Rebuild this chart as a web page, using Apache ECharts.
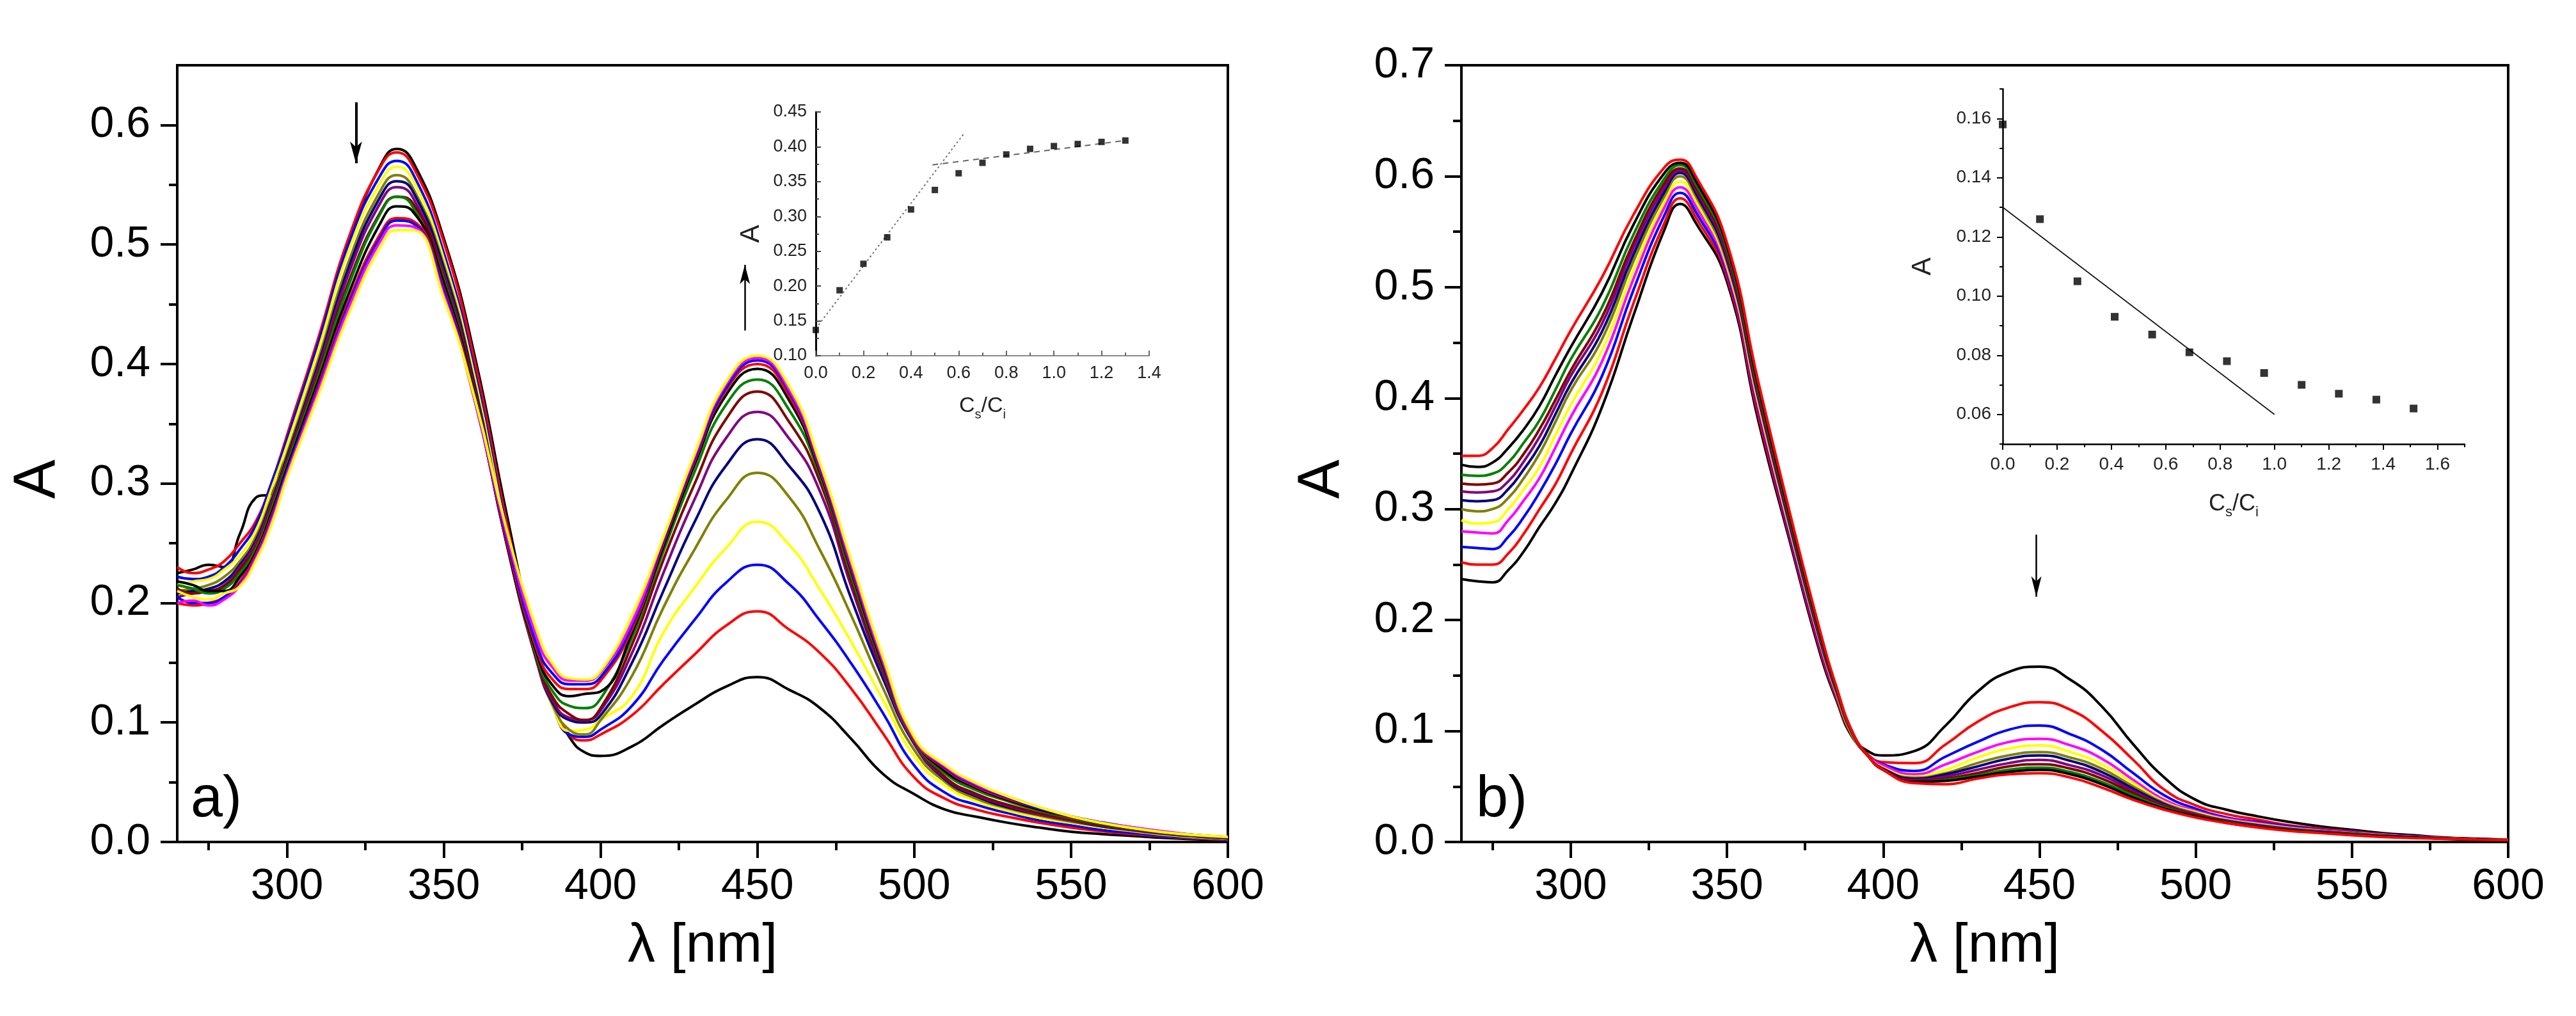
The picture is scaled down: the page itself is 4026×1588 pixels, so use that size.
<!DOCTYPE html>
<html>
<head>
<meta charset="utf-8">
<script src="https://cdn.jsdelivr.net/npm/echarts@6/dist/echarts.min.js"></script>
<style>
  html, body { margin: 0; padding: 0; background: #fff; }
  #chart { width: 4026px; height: 1588px; }
</style>
</head>
<body>
<div id="chart"></div>
<script>
// wavelength grid (nm), shared by every spectrum
const wavelength = [265, 270, 275, 280, 285, 290, 295, 300, 310, 320, 330, 335, 340, 350, 360, 370, 380, 385, 390, 395, 400,
  410, 420, 430, 440, 450, 460, 470, 480, 490, 500, 510, 520, 530, 540, 550, 560, 570, 580, 590, 600];

// panel a) spectra
const specA1 = [0.225, 0.228, 0.232, 0.23, 0.258, 0.288, 0.292, 0.34, 0.42, 0.505, 0.567, 0.580, 0.570, 0.505, 0.405, 0.275, 0.155, 0.115, 0.088, 0.075, 0.072,
  0.080, 0.098, 0.115, 0.130, 0.138, 0.1275, 0.112, 0.086, 0.057, 0.040, 0.027, 0.021, 0.016, 0.012, 0.0086, 0.0066, 0.005, 0.0034, 0.0023, 0.0014];
const specA2 = [0.23, 0.225, 0.228, 0.235, 0.25, 0.268, 0.30, 0.34, 0.422, 0.508, 0.566, 0.577, 0.566, 0.502, 0.40, 0.268, 0.15, 0.115, 0.09, 0.085, 0.09,
  0.106, 0.132, 0.157, 0.181, 0.193, 0.178, 0.158, 0.128, 0.091, 0.054, 0.036, 0.027, 0.021, 0.016, 0.012, 0.009, 0.0065, 0.0045, 0.003, 0.0018];
const specA3 = [0.222, 0.22, 0.222, 0.23, 0.245, 0.265, 0.30, 0.337, 0.418, 0.503, 0.559, 0.570, 0.56, 0.493, 0.392, 0.262, 0.148, 0.112, 0.09, 0.088, 0.094,
  0.114, 0.152, 0.186, 0.217, 0.232, 0.216, 0.185, 0.149, 0.108, 0.064, 0.041, 0.031, 0.024, 0.018, 0.014, 0.010, 0.0075, 0.005, 0.0035, 0.002];
const specA4 = [0.215, 0.218, 0.22, 0.228, 0.24, 0.26, 0.295, 0.332, 0.412, 0.497, 0.553, 0.565, 0.555, 0.488, 0.387, 0.258, 0.148, 0.112, 0.093, 0.094, 0.102,
  0.122, 0.175, 0.213, 0.246, 0.268, 0.249, 0.211, 0.167, 0.119, 0.072, 0.047, 0.034, 0.026, 0.020, 0.016, 0.012, 0.009, 0.006, 0.004, 0.0025];
const specA5 = [0.21, 0.212, 0.215, 0.222, 0.235, 0.255, 0.288, 0.325, 0.404, 0.488, 0.546, 0.558, 0.548, 0.483, 0.382, 0.255, 0.148, 0.113, 0.094, 0.09, 0.102,
  0.139, 0.196, 0.245, 0.286, 0.309, 0.289, 0.244, 0.189, 0.129, 0.077, 0.050, 0.036, 0.028, 0.022, 0.017, 0.013, 0.0095, 0.0065, 0.0045, 0.0028];
const specA6 = [0.208, 0.21, 0.212, 0.218, 0.232, 0.252, 0.285, 0.322, 0.40, 0.483, 0.541, 0.553, 0.545, 0.48, 0.38, 0.252, 0.148, 0.115, 0.102, 0.1, 0.106,
  0.150, 0.210, 0.268, 0.315, 0.337, 0.315, 0.275, 0.203, 0.137, 0.082, 0.052, 0.038, 0.029, 0.023, 0.018, 0.013, 0.0098, 0.0068, 0.0046, 0.003];
const specA7 = [0.205, 0.208, 0.21, 0.215, 0.23, 0.25, 0.283, 0.32, 0.397, 0.478, 0.536, 0.548, 0.54, 0.476, 0.377, 0.25, 0.148, 0.117, 0.104, 0.102, 0.11,
  0.158, 0.225, 0.287, 0.338, 0.360, 0.338, 0.293, 0.213, 0.141, 0.083, 0.053, 0.039, 0.030, 0.023, 0.018, 0.0135, 0.010, 0.007, 0.0048, 0.003];
const specA8 = [0.212, 0.208, 0.21, 0.214, 0.228, 0.247, 0.28, 0.318, 0.393, 0.471, 0.528, 0.54, 0.535, 0.473, 0.375, 0.25, 0.15, 0.12, 0.107, 0.102, 0.112,
  0.165, 0.236, 0.300, 0.354, 0.377, 0.352, 0.301, 0.218, 0.144, 0.085, 0.054, 0.040, 0.031, 0.024, 0.019, 0.014, 0.0105, 0.0072, 0.005, 0.0032];
const specA9 = [0.215, 0.212, 0.208, 0.212, 0.225, 0.245, 0.278, 0.316, 0.39, 0.468, 0.527, 0.54, 0.532, 0.471, 0.373, 0.25, 0.152, 0.125, 0.114, 0.112, 0.12,
  0.171, 0.243, 0.310, 0.366, 0.387, 0.362, 0.306, 0.222, 0.146, 0.085, 0.057, 0.043, 0.034, 0.026, 0.020, 0.015, 0.011, 0.0076, 0.005, 0.0034];
const specA10 = [0.218, 0.215, 0.21, 0.21, 0.222, 0.242, 0.275, 0.313, 0.386, 0.461, 0.519, 0.532, 0.528, 0.468, 0.372, 0.25, 0.155, 0.13, 0.122, 0.124, 0.126,
  0.175, 0.247, 0.316, 0.374, 0.396, 0.370, 0.309, 0.226, 0.148, 0.086, 0.059, 0.045, 0.035, 0.027, 0.021, 0.0155, 0.0115, 0.008, 0.0054, 0.0036];
const specA11 = [0.20, 0.198, 0.20, 0.205, 0.218, 0.24, 0.272, 0.31, 0.382, 0.455, 0.51, 0.522, 0.52, 0.463, 0.37, 0.252, 0.158, 0.135, 0.128, 0.128, 0.135,
  0.178, 0.250, 0.319, 0.378, 0.400, 0.374, 0.311, 0.228, 0.150, 0.086, 0.061, 0.046, 0.036, 0.028, 0.021, 0.016, 0.0118, 0.0083, 0.0056, 0.0038];
const specA12 = [0.205, 0.20, 0.20, 0.205, 0.216, 0.238, 0.27, 0.31, 0.38, 0.452, 0.507, 0.52, 0.518, 0.461, 0.368, 0.255, 0.162, 0.14, 0.132, 0.132, 0.138,
  0.181, 0.252, 0.321, 0.380, 0.403, 0.377, 0.313, 0.230, 0.151, 0.087, 0.062, 0.047, 0.037, 0.028, 0.0215, 0.0163, 0.012, 0.0085, 0.0057, 0.004];
const specA13 = [0.20, 0.202, 0.198, 0.203, 0.215, 0.237, 0.268, 0.308, 0.378, 0.449, 0.504, 0.516, 0.515, 0.458, 0.368, 0.258, 0.168, 0.145, 0.135, 0.135, 0.142,
  0.184, 0.254, 0.323, 0.383, 0.405, 0.379, 0.315, 0.232, 0.152, 0.087, 0.063, 0.048, 0.038, 0.029, 0.0215, 0.016, 0.0122, 0.0087, 0.0058, 0.0042];
const specA14 = [0.21, 0.205, 0.203, 0.208, 0.214, 0.235, 0.265, 0.305, 0.374, 0.444, 0.499, 0.512, 0.512, 0.455, 0.37, 0.262, 0.175, 0.148, 0.137, 0.136, 0.143,
  0.19, 0.255, 0.325, 0.385, 0.407, 0.382, 0.317, 0.235, 0.155, 0.088, 0.064, 0.049, 0.038, 0.029, 0.0215, 0.0158, 0.0115, 0.008, 0.0057, 0.0043];

// panel b) spectra
const specB1 = [0.237, 0.235, 0.234, 0.245, 0.262, 0.284, 0.305, 0.331, 0.392, 0.474, 0.552, 0.575, 0.558, 0.505, 0.380, 0.272, 0.168, 0.128, 0.095, 0.082, 0.078,
  0.082, 0.105, 0.135, 0.153, 0.158, 0.146, 0.122, 0.088, 0.058, 0.038, 0.029, 0.023, 0.018, 0.014, 0.011, 0.008, 0.006, 0.004, 0.003, 0.002];
const specB2 = [0.252, 0.25, 0.25, 0.26, 0.278, 0.30, 0.322, 0.35, 0.405, 0.485, 0.558, 0.580, 0.563, 0.509, 0.385, 0.275, 0.171, 0.13, 0.096, 0.079, 0.072,
  0.071, 0.088, 0.108, 0.121, 0.126, 0.119, 0.100, 0.074, 0.047, 0.033, 0.025, 0.020, 0.015, 0.012, 0.0095, 0.007, 0.0052, 0.0037, 0.0027, 0.0019];
const specB3 = [0.266, 0.265, 0.264, 0.275, 0.293, 0.315, 0.34, 0.368, 0.42, 0.497, 0.565, 0.585, 0.568, 0.513, 0.39, 0.278, 0.174, 0.132, 0.097, 0.078, 0.07,
  0.064, 0.077, 0.09, 0.101, 0.105, 0.097, 0.083, 0.062, 0.042, 0.030, 0.022, 0.018, 0.014, 0.011, 0.0088, 0.0066, 0.005, 0.0035, 0.0026, 0.0019];
const specB4 = [0.28, 0.279, 0.278, 0.29, 0.308, 0.328, 0.355, 0.383, 0.433, 0.507, 0.572, 0.590, 0.573, 0.516, 0.393, 0.281, 0.176, 0.133, 0.097, 0.078, 0.069,
  0.061, 0.07, 0.081, 0.09, 0.093, 0.087, 0.075, 0.056, 0.038, 0.028, 0.021, 0.017, 0.013, 0.0105, 0.0084, 0.0063, 0.0048, 0.0034, 0.0025, 0.0019];
const specB5 = [0.29, 0.287, 0.288, 0.30, 0.318, 0.338, 0.366, 0.394, 0.443, 0.515, 0.577, 0.595, 0.578, 0.519, 0.396, 0.283, 0.178, 0.134, 0.097, 0.078, 0.067,
  0.059, 0.065, 0.076, 0.084, 0.087, 0.081, 0.070, 0.053, 0.036, 0.027, 0.020, 0.016, 0.0125, 0.010, 0.008, 0.006, 0.0046, 0.0033, 0.0025, 0.0019];
const specB6 = [0.30, 0.298, 0.30, 0.31, 0.328, 0.35, 0.378, 0.407, 0.453, 0.523, 0.582, 0.600, 0.582, 0.522, 0.399, 0.285, 0.179, 0.135, 0.098, 0.078, 0.066,
  0.058, 0.062, 0.071, 0.078, 0.081, 0.076, 0.066, 0.050, 0.035, 0.026, 0.0195, 0.0155, 0.012, 0.0097, 0.0078, 0.0058, 0.0045, 0.0032, 0.0024, 0.0018];
const specB7 = [0.308, 0.307, 0.308, 0.318, 0.336, 0.357, 0.385, 0.413, 0.46, 0.529, 0.586, 0.603, 0.585, 0.525, 0.401, 0.287, 0.180, 0.136, 0.098, 0.078, 0.066,
  0.057, 0.061, 0.068, 0.075, 0.078, 0.073, 0.063, 0.048, 0.034, 0.025, 0.019, 0.015, 0.0118, 0.0095, 0.0076, 0.0057, 0.0044, 0.0031, 0.0024, 0.0018];
const specB8 = [0.316, 0.315, 0.316, 0.325, 0.343, 0.365, 0.392, 0.42, 0.467, 0.535, 0.59, 0.605, 0.588, 0.528, 0.403, 0.289, 0.181, 0.137, 0.099, 0.078, 0.065,
  0.056, 0.059, 0.065, 0.071, 0.074, 0.069, 0.060, 0.046, 0.033, 0.025, 0.0185, 0.0145, 0.0115, 0.0093, 0.0074, 0.0055, 0.0043, 0.0031, 0.0023, 0.0018];
const specB9 = [0.323, 0.322, 0.323, 0.333, 0.35, 0.372, 0.398, 0.425, 0.473, 0.54, 0.594, 0.607, 0.59, 0.531, 0.405, 0.291, 0.182, 0.138, 0.099, 0.078, 0.065,
  0.055, 0.057, 0.062, 0.068, 0.070, 0.066, 0.057, 0.044, 0.032, 0.024, 0.018, 0.014, 0.0112, 0.009, 0.0072, 0.0054, 0.0042, 0.003, 0.0023, 0.0018];
const specB10 = [0.331, 0.33, 0.332, 0.342, 0.36, 0.38, 0.407, 0.435, 0.482, 0.547, 0.598, 0.610, 0.593, 0.534, 0.408, 0.293, 0.184, 0.138, 0.099, 0.078, 0.065,
  0.054, 0.056, 0.06, 0.065, 0.067, 0.063, 0.054, 0.042, 0.031, 0.023, 0.0175, 0.0137, 0.011, 0.0088, 0.007, 0.0052, 0.0041, 0.003, 0.0023, 0.0018];
const specB11 = [0.34, 0.338, 0.342, 0.355, 0.372, 0.393, 0.42, 0.446, 0.495, 0.556, 0.603, 0.612, 0.596, 0.537, 0.411, 0.295, 0.186, 0.139, 0.1, 0.078, 0.065,
  0.054, 0.055, 0.059, 0.063, 0.065, 0.061, 0.052, 0.040, 0.030, 0.023, 0.0172, 0.0134, 0.0105, 0.0085, 0.0065, 0.005, 0.004, 0.0029, 0.0022, 0.0018];
const specB12 = [0.348, 0.348, 0.355, 0.372, 0.39, 0.41, 0.435, 0.461, 0.509, 0.565, 0.608, 0.615, 0.600, 0.540, 0.415, 0.298, 0.188, 0.14, 0.1, 0.078, 0.065,
  0.053, 0.052, 0.057, 0.061, 0.062, 0.058, 0.049, 0.038, 0.029, 0.022, 0.017, 0.013, 0.010, 0.008, 0.006, 0.0045, 0.0035, 0.0028, 0.0022, 0.0018];

// inset a): A(450 nm) vs cS/cI
const insetARatio = [0, 0.1, 0.2, 0.3, 0.4, 0.5, 0.6, 0.7, 0.8, 0.9, 1.0, 1.1, 1.2, 1.3];
const insetAAbs = [0.137, 0.194, 0.232, 0.270, 0.310, 0.338, 0.362, 0.377, 0.389, 0.397, 0.401, 0.404, 0.407, 0.409];
const insetAFitRise = [[0, 0.139], [0.62, 0.418]];
const insetAFitFlat = [[0.49, 0.374], [1.3, 0.409]];

// inset b): A(450 nm) vs cS/cI
const insetBRatio = [0, 0.137, 0.275, 0.412, 0.55, 0.687, 0.825, 0.962, 1.1, 1.237, 1.375, 1.512];
const insetBAbs = [0.158, 0.126, 0.105, 0.093, 0.087, 0.081, 0.078, 0.074, 0.070, 0.067, 0.065, 0.062];
const insetBFit = [[0, 0.130], [1.0, 0.060]];

// arrows (tail -> head, data coords)
const arrowA320 = [[322, 0.619], [322, 0.568]];
const arrowA450 = [[446, 0.428], [446, 0.483]];
const arrowB450 = [[449, 0.277], [449, 0.221]];

// tick values
const nmMajor = [300, 350, 400, 450, 500, 550, 600];
const nmMinor = [275, 325, 375, 425, 475, 525, 575];
const absMajorA = [0, 0.1, 0.2, 0.3, 0.4, 0.5, 0.6];
const absMinorA = [0.05, 0.15, 0.25, 0.35, 0.45, 0.55];
const absMajorB = [0, 0.1, 0.2, 0.3, 0.4, 0.5, 0.6, 0.7];
const absMinorB = [0.05, 0.15, 0.25, 0.35, 0.45, 0.55, 0.65];
const insetBMajor = [0.06, 0.08, 0.10, 0.12, 0.14, 0.16];
const insetBMinor = [0.05, 0.07, 0.09, 0.11, 0.13, 0.15, 0.17];
const insetBRatioMajor = [0, 0.2, 0.4, 0.6, 0.8, 1.0, 1.2, 1.4, 1.6];
const insetBRatioMinor = [0.1, 0.3, 0.5, 0.7, 0.9, 1.1, 1.3, 1.5, 1.7];

const seriesA = [specA1, specA2, specA3, specA4, specA5, specA6, specA7, specA8, specA9, specA10, specA11, specA12, specA13, specA14];
const seriesB = [specB1, specB2, specB3, specB4, specB5, specB6, specB7, specB8, specB9, specB10, specB11, specB12];
const paletteA = ['#000000', '#ff0000', '#0000ff', '#ffff00', '#808000', '#000080', '#800080', '#800000', '#008000', '#000000', '#ff0000', '#0000ff', '#ff00ff', '#ffff00'];
const paletteB = ['#000000', '#ff0000', '#0000ff', '#ff00ff', '#ffff00', '#808000', '#000080', '#800080', '#800000', '#008000', '#000000', '#ff0000'];

const FONT = "'Liberation Sans', Arial, sans-serif";

function mainX(gridIndex, name) {
  return {
    type: 'value', gridIndex, min: 265, max: 600, position: 'bottom',
    name, nameLocation: 'middle', nameGap: 120,
    nameTextStyle: { fontFamily: FONT, fontSize: 86, color: '#000' },
    axisLine: { show: true, onZero: false, lineStyle: { color: '#000', width: 4 } },
    axisTick: { show: true, inside: false, length: 25, customValues: nmMajor, lineStyle: { color: '#000', width: 4 } },
    axisLabel: { show: true, margin: 36, customValues: nmMajor, fontFamily: FONT, fontSize: 68, color: '#000' },
    splitLine: { show: false }
  };
}
function mainY(gridIndex, max, major) {
  return {
    type: 'value', gridIndex, min: 0, max, position: 'left',
    name: 'A', nameLocation: 'middle', nameGap: 170, nameRotate: 90,
    nameTextStyle: { fontFamily: FONT, fontSize: 92, color: '#000', padding: [0, 80, 0, 0] },
    axisLine: { show: true, onZero: false, lineStyle: { color: '#000', width: 4 } },
    axisTick: { show: true, inside: false, length: 26, customValues: major, lineStyle: { color: '#000', width: 4 } },
    axisLabel: { show: true, margin: 42, customValues: major, fontFamily: FONT, fontSize: 68, color: '#000',
      formatter: v => v.toFixed(1) },
    splitLine: { show: false }
  };
}
// extra axis that only carries short minor ticks
function minorAxis(gridIndex, min, max, position, values, len, width, inside) {
  return {
    type: 'value', gridIndex, min, max, position,
    axisLine: { show: false, onZero: false },
    axisTick: { show: true, inside: !!inside, length: len, customValues: values, lineStyle: { color: '#000', width } },
    axisLabel: { show: false },
    splitLine: { show: false }
  };
}

const csci = '{m|C}{s|s}{m|/C}{s|i}';
function csciStyle(size) {
  return {
    fontFamily: FONT, color: '#222',
    rich: {
      m: { fontFamily: FONT, fontSize: size, color: '#222', lineHeight: size + 6, padding: [0, 0, 8, 0], verticalAlign: 'top' },
      s: { fontFamily: FONT, fontSize: Math.round(size * 0.6), color: '#222', lineHeight: Math.round(size * 0.6) + 2, verticalAlign: 'bottom' }
    }
  };
}

const xAxes = [
  mainX(0, 'λ [nm]'),
  minorAxis(0, 265, 600, 'bottom', nmMinor, 13, 4),
  {
    type: 'value', gridIndex: 1, min: 0, max: 1.4, interval: 0.2, position: 'bottom',
    name: csci, nameLocation: 'middle', nameGap: 62, nameTextStyle: csciStyle(34),
    axisLine: { show: true, onZero: false, lineStyle: { color: '#888', width: 2 } },
    axisTick: { show: true, inside: true, length: 8, lineStyle: { color: '#666', width: 2 } },
    minorTick: { show: true, splitNumber: 2, length: 5, lineStyle: { color: '#666', width: 2 } },
    axisLabel: { margin: 14, fontFamily: FONT, fontSize: 27, color: '#222', formatter: v => v.toFixed(1) },
    splitLine: { show: false }
  },
  mainX(2, 'λ [nm]'),
  minorAxis(2, 265, 600, 'bottom', nmMinor, 13, 4),
  {
    type: 'value', gridIndex: 3, min: 0, max: 1.7, position: 'bottom',
    name: csci, nameLocation: 'middle', nameGap: 76, nameTextStyle: csciStyle(36),
    axisLine: { show: true, onZero: false, lineStyle: { color: '#000', width: 2.5 } },
    axisTick: { show: true, inside: false, length: 9, customValues: insetBRatioMajor, lineStyle: { color: '#000', width: 2 } },
    axisLabel: { margin: 18, customValues: insetBRatioMajor, fontFamily: FONT, fontSize: 28, color: '#222', formatter: v => v.toFixed(1) },
    splitLine: { show: false }
  },
  minorAxis(3, 0, 1.7, 'bottom', insetBRatioMinor, 5, 2)
];

const yAxes = [
  mainY(0, 0.65, absMajorA),
  minorAxis(0, 0, 0.65, 'left', absMinorA, 13, 4),
  {
    type: 'value', gridIndex: 1, min: 0.10, max: 0.45, interval: 0.05, position: 'left',
    name: 'A', nameLocation: 'middle', nameGap: 80, nameRotate: 90,
    nameTextStyle: { fontFamily: FONT, fontSize: 42, color: '#222' },
    axisLine: { show: true, onZero: false, lineStyle: { color: '#000', width: 3 } },
    axisTick: { show: true, inside: true, length: 8, lineStyle: { color: '#444', width: 2 } },
    minorTick: { show: true, splitNumber: 2, length: 5, lineStyle: { color: '#444', width: 2 } },
    axisLabel: { margin: 14, fontFamily: FONT, fontSize: 27, color: '#222', formatter: v => v.toFixed(2) },
    splitLine: { show: false }
  },
  mainY(2, 0.7, absMajorB),
  minorAxis(2, 0, 0.7, 'left', absMinorB, 13, 4),
  {
    type: 'value', gridIndex: 3, min: 0.05, max: 0.17, position: 'left',
    name: 'A', nameLocation: 'middle', nameGap: 104, nameRotate: 90,
    nameTextStyle: { fontFamily: FONT, fontSize: 42, color: '#222' },
    axisLine: { show: true, onZero: false, lineStyle: { color: '#000', width: 2.5 } },
    axisTick: { show: true, inside: false, length: 9, customValues: insetBMajor, lineStyle: { color: '#000', width: 2 } },
    axisLabel: { margin: 18, customValues: insetBMajor, fontFamily: FONT, fontSize: 28, color: '#222', formatter: v => v.toFixed(2) },
    splitLine: { show: false }
  },
  minorAxis(3, 0.05, 0.17, 'left', insetBMinor, 5, 2)
];

function arrowLine(points, width, head) {
  return [
    { coord: points[0], lineStyle: { color: '#000', width, type: 'solid' }, symbolSize: head },
    { coord: points[1], symbolSize: head }
  ];
}

const series = [];
seriesA.forEach((vals, i) => {
  series.push({
    type: 'line', xAxisIndex: 0, yAxisIndex: 0, showSymbol: false, symbol: 'none',
    smooth: 0.5, z: 2,
    lineStyle: { color: paletteA[i], width: 4 },
    data: wavelength.map((w, k) => [w, vals[k]])
  });
});
seriesB.forEach((vals, i) => {
  series.push({
    type: 'line', xAxisIndex: 3, yAxisIndex: 3, showSymbol: false, symbol: 'none',
    smooth: 0.5, z: 2,
    lineStyle: { color: paletteB[i], width: 4 },
    data: wavelength.map((w, k) => [w, vals[k]])
  });
});

// arrows
series.push({
  type: 'line', xAxisIndex: 0, yAxisIndex: 0, data: [], symbol: 'none',
  markLine: {
    silent: true, animation: false, symbol: ['none', 'arrow'], label: { show: false },
    emphasis: { disabled: true },
    data: [arrowLine(arrowA320, 4, [14, 34]), arrowLine(arrowA450, 2.5, [12, 30])]
  }
});
series.push({
  type: 'line', xAxisIndex: 3, yAxisIndex: 3, data: [], symbol: 'none',
  markLine: {
    silent: true, animation: false, symbol: ['none', 'arrow'], label: { show: false },
    emphasis: { disabled: true },
    data: [arrowLine(arrowB450, 2.5, [12, 32])]
  }
});

// inset a)
series.push({
  type: 'line', xAxisIndex: 2, yAxisIndex: 2, symbol: 'none', z: 3,
  lineStyle: { color: '#777', width: 2, type: [3, 4] }, data: insetAFitRise
});
series.push({
  type: 'line', xAxisIndex: 2, yAxisIndex: 2, symbol: 'none', z: 3,
  lineStyle: { color: '#666', width: 2, type: [9, 7] }, data: insetAFitFlat
});
series.push({
  type: 'scatter', xAxisIndex: 2, yAxisIndex: 2, symbol: 'rect', symbolSize: 10, z: 4,
  itemStyle: { color: '#000' }, data: insetARatio.map((r, k) => [r, insetAAbs[k]])
});
// inset b)
series.push({
  type: 'line', xAxisIndex: 5, yAxisIndex: 5, symbol: 'none', z: 3,
  lineStyle: { color: '#111', width: 1.6 }, data: insetBFit
});
series.push({
  type: 'scatter', xAxisIndex: 5, yAxisIndex: 5, symbol: 'rect', symbolSize: 12, z: 4,
  itemStyle: { color: '#000' }, data: insetBRatio.map((r, k) => [r, insetBAbs[k]])
});

const chart = echarts.init(document.getElementById('chart'), null, { renderer: 'canvas' });
chart.setOption({
  backgroundColor: '#fff',
  animation: false,
  grid: [
    { left: 277, top: 102, width: 1642, height: 1214, show: true, borderColor: '#000', borderWidth: 4, backgroundColor: 'transparent' },
    { left: 1275, top: 175, width: 521, height: 381 },
    { left: 2284, top: 102, width: 1636, height: 1214, show: true, borderColor: '#000', borderWidth: 4, backgroundColor: 'transparent' },
    { left: 3130, top: 139, width: 722, height: 555 }
  ],
  xAxis: xAxes,
  yAxis: yAxes,
  graphic: [
    { type: 'text', left: 298, top: 1206, style: { text: 'a)', font: "90px 'Liberation Sans', Arial", fill: '#000' } },
    { type: 'text', left: 2307, top: 1206, style: { text: 'b)', font: "90px 'Liberation Sans', Arial", fill: '#000' } }
  ],
  series
});
</script>
</body>
</html>
